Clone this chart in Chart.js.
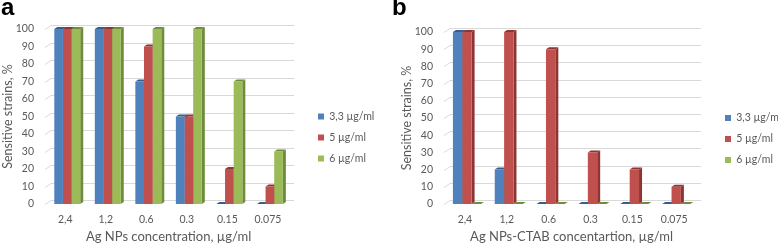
<!DOCTYPE html>
<html>
<head>
<meta charset="utf-8">
<script src="https://cdn.jsdelivr.net/npm/chart.js@4.4.1/dist/chart.umd.min.js"></script>
<style>
body { margin: 0; background: #fff; width: 778px; height: 246px; position: relative; overflow: hidden; }
.panel { position: absolute; top: 0; height: 246px; }
#panelA { left: 0; width: 390px; }
#panelB { left: 390px; width: 388px; }
.tag { position: absolute; top: -7px; font: bold 24px "Liberation Sans", Arial, sans-serif; color: #000; }
</style>
</head>
<body>
<div class="panel" id="panelA"><canvas id="chartA"></canvas><div class="tag" style="left:1px">a</div></div>
<div class="panel" id="panelB"><canvas id="chartB"></canvas><div class="tag" style="left:2px">b</div></div>
<script>
// values (% of sensitive strains)
const categories = ['2,4', '1,2', '0.6', '0.3', '0.15', '0.075'];
const seriesLabels = ['3,3 µg/ml', '5 µg/ml', '6 µg/ml'];
const yTicks = [0, 10, 20, 30, 40, 50, 60, 70, 80, 90, 100];

// panel a - Ag NPs
const agLow = [100, 100, 70, 50, 0, 0];
const agMid = [100, 100, 90, 50, 20, 10];
const agHigh = [100, 100, 100, 100, 70, 30];

// panel b - Ag NPs-CTAB
const ctabLow = [100, 20, 0, 0, 0, 0];
const ctabMid = [100, 100, 90, 30, 20, 10];
const ctabHigh = [0, 0, 0, 0, 0, 0];

const fillColors = ['#4f81bd', '#c0504d', '#9bbb59'];
const sideColors = ['#375d8c', '#8c3533', '#6e8c3a'];
const textColor = '#595959';
const fontFamily = 'Lato, "Liberation Sans", sans-serif';

// fake excel-style 3d: back wall grid + side/top faces of every bar
const fakeDepth = {
    id: 'fakeDepth',
    afterLayout(chart, args, opts) {
        // legend sits a bit further right than chart.js would put it
        const lg = chart.legend;
        const pad = chart.options.plugins.legend.labels.padding;
        lg.left = opts.legendX - pad;
        lg.right = lg.left + lg.width;
    },
    beforeDatasetsDraw(chart, args, opts) {
        const ctx = chart.ctx;
        const area = chart.chartArea;
        const yScale = chart.scales.y;
        ctx.save();
        ctx.strokeStyle = '#d9d9d9';
        ctx.lineWidth = 1;
        yScale.ticks.forEach(t => {
            const py = Math.round(yScale.getPixelForValue(t.value)) + 0.5;
            ctx.beginPath();
            ctx.moveTo(area.left - 2, py);
            ctx.lineTo(area.left + opts.wallDx, py - opts.wallDy);
            ctx.lineTo(area.right + opts.wallDx, py - opts.wallDy);
            ctx.stroke();
        });
        const dx = opts.barDx, dy = opts.barDy;
        chart.data.datasets.forEach((ds, i) => {
            const meta = chart.getDatasetMeta(i);
            meta.data.forEach(bar => {
                const p = bar.getProps(['x', 'y', 'base', 'width'], true);
                const l = p.x - p.width / 2, r = p.x + p.width / 2;
                ctx.fillStyle = sideColors[i];
                ctx.beginPath();
                ctx.moveTo(r, p.y);
                ctx.lineTo(r + dx, p.y - dy);
                ctx.lineTo(r + dx, p.base - dy);
                ctx.lineTo(r, p.base);
                ctx.closePath();
                ctx.fill();
                ctx.beginPath();
                ctx.moveTo(l, p.y);
                ctx.lineTo(l + dx, p.y - dy);
                ctx.lineTo(r + dx, p.y - dy);
                ctx.lineTo(r, p.y);
                ctx.closePath();
                ctx.fill();
            });
        });
        ctx.restore();
    }
};

function makeChart(id, series, xTitle, cfg) {
    const datasets = series.map((vals, i) => ({
        label: seriesLabels[i],
        data: vals,
        backgroundColor: fillColors[i],
        borderWidth: 0,
        categoryPercentage: cfg.catPct,
        barPercentage: 1.0
    }));
    return new Chart(document.getElementById(id), {
        type: 'bar',
        data: { labels: categories, datasets: datasets },
        plugins: [fakeDepth],
        options: {
            responsive: true,
            maintainAspectRatio: false,
            animation: false,
            layout: { padding: cfg.padding },
            plugins: {
                tooltip: { enabled: false },
                fakeDepth: { wallDx: cfg.wallDx, wallDy: cfg.wallDy, barDx: 3, barDy: 2, legendX: cfg.legendX },
                legend: {
                    position: 'right',
                    labels: {
                        boxWidth: 6,
                        boxHeight: 6,
                        padding: 10.5,
                        color: textColor,
                        font: { family: fontFamily, size: 10.5 }
                    }
                }
            },
            scales: {
                x: {
                    grid: { display: false, drawTicks: false },
                    border: { display: false },
                    ticks: {
                        color: textColor,
                        padding: 9,
                        labelOffset: -2,
                        maxRotation: 0,
                        font: { family: fontFamily, size: 10.5 }
                    },
                    title: {
                        display: true,
                        text: xTitle,
                        color: textColor,
                        padding: { top: 0, bottom: 1 },
                        font: { family: fontFamily, size: 13 }
                    },
                    afterFit: s => { s.height = 42; }
                },
                y: {
                    min: 0,
                    max: 100,
                    grid: { display: false, drawTicks: false },
                    border: { display: false },
                    afterBuildTicks: s => { s.ticks = yTicks.map(v => ({ value: v })); },
                    ticks: {
                        color: textColor,
                        padding: 13,
                        font: { family: fontFamily, size: 10.5 }
                    },
                    title: {
                        display: true,
                        text: 'Sensitive strains, %',
                        color: textColor,
                        padding: 0,
                        font: { family: fontFamily, size: 12.5 }
                    },
                    afterFit: s => { s.width = cfg.yWidth; }
                }
            }
        }
    });
}

makeChart('chartA', [agLow, agMid, agHigh], 'Ag NPs concentration, µg/ml', {
    catPct: 0.64,
    wallDx: 4, wallDy: 4,
    yWidth: 47,
    legendX: 318,
    padding: { top: 29, left: 0, right: 23, bottom: 0 }
});

makeChart('chartB', [ctabLow, ctabMid, ctabHigh], 'Ag NPs-CTAB concentartion, µg/ml', {
    catPct: 0.67,
    wallDx: 4, wallDy: 4,
    yWidth: 47,
    legendX: 335,
    padding: { top: 32, left: 9, right: 4, bottom: 0 }
});
</script>
</body>
</html>
